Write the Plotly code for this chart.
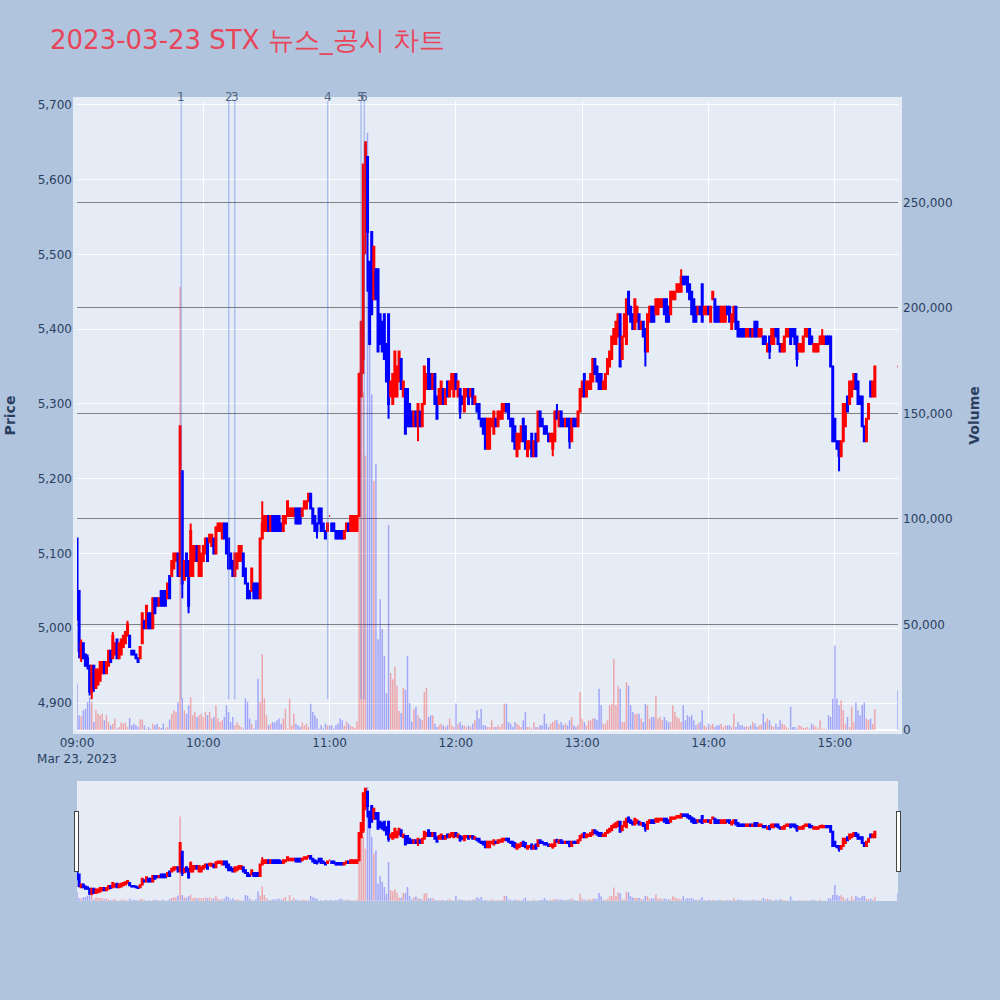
import pandas as pd
import plotly.graph_objects as go
from plotly.subplots import make_subplots

# ---- 1-minute candles, 09:00 .. 15:19, plus the 15:30 closing print ----
open_prices = [
    5120, 5050, 4960, 4980, 4965, 4960, 4950, 4915, 4950, 4920,  # 09:00
    4925, 4930, 4940, 4955, 4940, 4950, 4970, 4960, 4965, 4985,  # 09:10
    4960, 4965, 4975, 4980, 4990, 4990, 4970, 4970, 4965, 4960,  # 09:20
    4960, 4980, 5010, 5000, 5020, 5020, 5000, 5040, 5040, 5030,  # 09:30
    5050, 5050, 5050, 5040, 5070, 5070, 5080, 5090, 5100, 5070,  # 09:40
    5210, 5065, 5100, 5090, 5070, 5070, 5090, 5110, 5070, 5070,  # 09:50
    5090, 5100, 5120, 5115, 5110, 5120, 5100, 5130, 5130, 5120,  # 10:00
    5140, 5140, 5120, 5100, 5090, 5070, 5080, 5090, 5090, 5100,  # 10:10
    5080, 5060, 5050, 5050, 5060, 5060, 5060, 5040, 5120, 5130,  # 10:20
    5130, 5150, 5130, 5150, 5150, 5150, 5150, 5140, 5130, 5140,  # 10:30
    5150, 5150, 5150, 5150, 5160, 5160, 5160, 5150, 5160, 5160,  # 10:40
    5170, 5180, 5160, 5150, 5140, 5160, 5160, 5140, 5130, 5130,  # 10:50
    5150, 5140, 5140, 5130, 5130, 5130, 5130, 5120, 5130, 5140,  # 11:00
    5130, 5130, 5130, 5130, 5150, 5310, 5360, 5580, 5630, 5490,  # 11:10
    5530, 5440, 5480, 5480, 5420, 5410, 5420, 5380, 5420, 5310,  # 11:20
    5300, 5310, 5310, 5330, 5360, 5310, 5320, 5320, 5300, 5290,  # 11:30
    5270, 5290, 5270, 5290, 5270, 5300, 5320, 5360, 5340, 5320,  # 11:40
    5340, 5310, 5300, 5300, 5320, 5300, 5330, 5310, 5320, 5310,  # 11:50
    5340, 5310, 5320, 5310, 5290, 5310, 5320, 5310, 5320, 5300,  # 12:00
    5300, 5300, 5280, 5280, 5280, 5240, 5240, 5270, 5260, 5280,  # 12:10
    5270, 5280, 5280, 5290, 5300, 5300, 5280, 5280, 5270, 5230,  # 12:20
    5240, 5250, 5280, 5270, 5230, 5240, 5260, 5230, 5260, 5250,  # 12:30
    5290, 5280, 5270, 5270, 5260, 5250, 5240, 5250, 5290, 5270,  # 12:40
    5290, 5280, 5270, 5280, 5280, 5250, 5280, 5280, 5270, 5290,  # 12:50
    5310, 5340, 5310, 5320, 5320, 5330, 5360, 5350, 5340, 5340,  # 13:00
    5320, 5320, 5340, 5350, 5360, 5380, 5380, 5390, 5420, 5360,  # 13:10
    5390, 5380, 5450, 5430, 5420, 5400, 5410, 5420, 5400, 5410,  # 13:20
    5400, 5370, 5410, 5430, 5430, 5420, 5420, 5430, 5430, 5440,  # 13:30
    5440, 5430, 5420, 5440, 5440, 5450, 5450, 5450, 5470, 5470,  # 13:40
    5470, 5460, 5450, 5440, 5430, 5420, 5430, 5460, 5420, 5420,  # 13:50
    5430, 5410, 5440, 5440, 5430, 5430, 5410, 5410, 5410, 5430,  # 14:00
    5430, 5400, 5410, 5430, 5410, 5400, 5400, 5400, 5390, 5390,  # 14:10
    5400, 5390, 5410, 5410, 5390, 5390, 5390, 5390, 5370, 5390,  # 14:20
    5380, 5380, 5400, 5400, 5380, 5370, 5370, 5390, 5390, 5400,  # 14:30
    5400, 5400, 5390, 5370, 5370, 5370, 5390, 5390, 5400, 5390,  # 14:40
    5370, 5370, 5370, 5380, 5380, 5380, 5390, 5390, 5390, 5350,  # 14:50
    5280, 5250, 5250, 5230, 5250, 5270, 5310, 5300, 5310, 5320,  # 15:00
    5340, 5330, 5310, 5310, 5270, 5250, 5280, 5330, 5310, 5310,  # 15:10
    5350,                                                        # 15:30
]
close_prices = [
    5020, 4970, 4980, 4960, 4950, 4950, 4915, 4950, 4920, 4945,  # 09:00
    4945, 4955, 4955, 4940, 4955, 4970, 4955, 4990, 4980, 4960,  # 09:10
    4980, 4985, 4990, 4995, 5005, 4975, 4965, 4965, 4960, 4955,  # 09:20
    4975, 5020, 5000, 5030, 5000, 5000, 5040, 5020, 5030, 5040,  # 09:30
    5030, 5030, 5030, 5060, 5040, 5090, 5100, 5100, 5070, 5270,  # 09:40
    5060, 5090, 5070, 5030, 5130, 5110, 5110, 5090, 5110, 5100,  # 09:50
    5110, 5120, 5090, 5125, 5125, 5100, 5135, 5140, 5140, 5140,  # 10:00
    5120, 5100, 5080, 5080, 5070, 5100, 5100, 5110, 5110, 5070,  # 10:10
    5060, 5040, 5040, 5080, 5040, 5040, 5040, 5120, 5140, 5150,  # 10:20
    5150, 5130, 5150, 5130, 5130, 5130, 5130, 5130, 5150, 5150,  # 10:30
    5170, 5160, 5160, 5160, 5140, 5140, 5140, 5160, 5170, 5170,  # 10:40
    5180, 5160, 5140, 5130, 5130, 5140, 5130, 5130, 5120, 5140,  # 10:50
    5150, 5130, 5130, 5120, 5120, 5120, 5120, 5130, 5140, 5130,  # 11:00
    5150, 5150, 5150, 5150, 5340, 5410, 5620, 5650, 5530, 5380,  # 11:10
    5420, 5510, 5440, 5370, 5380, 5370, 5360, 5330, 5300, 5330,  # 11:20
    5340, 5370, 5350, 5370, 5320, 5330, 5260, 5270, 5270, 5270,  # 11:30
    5290, 5270, 5300, 5270, 5300, 5350, 5340, 5320, 5320, 5340,  # 11:40
    5300, 5280, 5320, 5330, 5300, 5320, 5310, 5330, 5340, 5340,  # 11:50
    5320, 5330, 5290, 5300, 5320, 5320, 5300, 5320, 5300, 5310,  # 12:00
    5290, 5280, 5270, 5260, 5240, 5280, 5280, 5280, 5290, 5270,  # 12:10
    5290, 5290, 5300, 5300, 5290, 5280, 5270, 5250, 5240, 5260,  # 12:20
    5260, 5270, 5250, 5240, 5250, 5250, 5230, 5250, 5230, 5290,  # 12:30
    5270, 5270, 5260, 5260, 5250, 5260, 5260, 5290, 5280, 5290,  # 12:40
    5270, 5270, 5280, 5270, 5250, 5280, 5270, 5270, 5290, 5320,  # 12:50
    5330, 5310, 5330, 5330, 5340, 5360, 5340, 5330, 5320, 5320,  # 13:00
    5330, 5340, 5360, 5370, 5390, 5400, 5410, 5420, 5350, 5390,  # 13:10
    5420, 5440, 5420, 5410, 5400, 5440, 5430, 5400, 5410, 5390,  # 13:20
    5370, 5420, 5430, 5410, 5410, 5440, 5440, 5440, 5440, 5420,  # 13:30
    5410, 5410, 5450, 5450, 5450, 5460, 5460, 5470, 5460, 5460,  # 13:40
    5450, 5440, 5420, 5410, 5410, 5430, 5420, 5410, 5430, 5430,  # 13:50
    5420, 5430, 5450, 5410, 5410, 5410, 5430, 5430, 5430, 5420,  # 14:00
    5410, 5420, 5430, 5400, 5390, 5390, 5390, 5390, 5400, 5400,  # 14:10
    5390, 5400, 5390, 5390, 5400, 5400, 5380, 5380, 5380, 5370,  # 14:20
    5400, 5400, 5390, 5380, 5370, 5380, 5390, 5400, 5400, 5380,  # 14:30
    5390, 5380, 5360, 5380, 5380, 5390, 5400, 5400, 5380, 5380,  # 14:40
    5380, 5380, 5380, 5390, 5390, 5390, 5380, 5380, 5350, 5250,  # 14:50
    5250, 5240, 5230, 5250, 5300, 5300, 5290, 5330, 5330, 5340,  # 15:00
    5320, 5300, 5300, 5270, 5250, 5280, 5300, 5310, 5330, 5350,  # 15:10
    5350,                                                        # 15:30
]
# wicks beyond the candle body: {minute index: price}
high_wicks = {2: 4985, 5: 4965, 17: 4995, 24: 5010, 54: 5140, 88: 5170,
              228: 5300, 287: 5480, 297: 5460, 302: 5450, 354: 5400}
low_wicks = {0: 5010, 1: 4960, 2: 4955, 5: 4945, 6: 4910, 7: 4905, 8: 4915,
             50: 5040, 53: 5020, 114: 5120, 136: 5340, 137: 5500, 138: 5450,
             148: 5280, 162: 5250, 182: 5280, 226: 5230, 234: 5240, 270: 5350,
             329: 5360, 342: 5350, 362: 5210}

volumes = [
    22000, 7000, 6500, 9300, 10000, 13300, 15600, 13300, 3800, 9300,
    7700, 7000, 7700, 4600, 7000, 3800, 2200, 3000, 5400, 600,
    1400, 3500, 3000, 3500, 1400, 5700, 2200, 3000, 2200, 1400,
    5000, 5000, 2200, 600, 1400, 600, 3000, 2200, 3000, 1400,
    1000, 3000, 600, 1400, 5000, 7700, 9300, 8500, 13000, 210000,
    15000, 9300, 7700, 11700, 15600, 7000, 8500, 6200, 7000, 7700,
    6200, 8500, 7000, 8500, 5400, 6200, 11700, 5400, 3800, 4600,
    6200, 11700, 8500, 3800, 6200, 2200, 3800, 2200, 1400, 600,
    15000, 13300, 5400, 3000, 600, 4600, 24300, 13300, 36000, 15000,
    7000, 2200, 3000, 3800, 3500, 4600, 5400, 3000, 5400, 10100,
    600, 14900, 2200, 7700, 3000, 2200, 1400, 3500, 2200, 3000,
    1400, 12500, 8500, 7000, 5400, 600, 2200, 600, 3000, 2200,
    2200, 2200, 600, 2200, 3000, 5400, 4600, 2000, 4000, 3000,
    2000, 1500, 1000, 4000, 170000, 175000, 160000, 130000, 283000, 220000,
    159000, 118000, 126000, 43000, 62000, 48000, 35000, 17500, 97000, 27000,
    24000, 30000, 21000, 9000, 8000, 20000, 19000, 35000, 12800, 4000,
    10000, 11000, 7000, 5400, 4600, 18000, 20000, 6200, 7000, 7000,
    3000, 1400, 2200, 3000, 2200, 1400, 2200, 5400, 2200, 1400,
    12500, 3000, 3800, 2200, 2200, 1400, 2200, 1400, 3000, 4600,
    9300, 5400, 10000, 2200, 2200, 1400, 1400, 4600, 1400, 1400,
    2200, 1400, 3000, 12500, 12500, 3800, 3000, 1400, 3800, 3000,
    2200, 1400, 4600, 8500, 1400, 1400, 600, 3800, 1400, 1400,
    2200, 2200, 7700, 3000, 1400, 3000, 3800, 4600, 4600, 3000,
    3800, 2200, 3000, 2200, 4600, 6200, 2200, 1400, 2500, 18000,
    5400, 3800, 2200, 4600, 4600, 5400, 5400, 4600, 19600, 11700,
    3000, 3000, 4600, 11700, 12500, 33800, 11700, 21000, 19600, 3800,
    3800, 22700, 21000, 11700, 8500, 7700, 7700, 7700, 5400, 3800,
    12500, 11700, 5400, 6200, 6200, 16400, 5400, 6200, 4600, 6200,
    4600, 3800, 3800, 11700, 8500, 6200, 5400, 3800, 11700, 4600,
    7000, 6200, 7000, 4600, 2200, 3000, 3800, 9300, 2200, 1400,
    3000, 2200, 3000, 1400, 2200, 2200, 3000, 1400, 2200, 2200,
    2200, 1400, 7700, 1400, 3800, 2200, 2200, 1400, 1900, 1400,
    2200, 3800, 3000, 1400, 2200, 2500, 7700, 3800, 5400, 4600,
    2200, 1400, 3000, 1400, 4600, 3000, 2500, 1400, 600, 11000,
    1400, 1400, 600, 2200, 1900, 1000, 1000, 1400, 600, 3000,
    2200, 1400, 600, 4600, 600, 600, 300, 7000, 6200, 14800,
    40000, 14800, 11700, 14000, 9300, 3000, 6200, 1400, 11000, 3800,
    13000, 9300, 7000, 11700, 13000, 5400, 4600, 5400, 3000, 10000,
    18800,
]

news_times = ["2023-03-23 09:49:33", "2023-03-23 10:12:04", "2023-03-23 10:14:55",
              "2023-03-23 10:59:06", "2023-03-23 11:14:55", "2023-03-23 11:16:29"]
news_labels = ["1", "2", "3", "4", "5", "6"]

# ---- build ----
times = list(pd.date_range("2023-03-23 09:00", periods=380, freq="min")) + [
    pd.Timestamp("2023-03-23 15:30")]
highs = [max(o, c, high_wicks.get(i, 0)) for i, (o, c) in enumerate(zip(open_prices, close_prices))]
lows = [min(o, c, low_wicks.get(i, 10 ** 9)) for i, (o, c) in enumerate(zip(open_prices, close_prices))]
vol_colors = ["rgba(255,0,0,0.3)" if c > o else "rgba(0,0,255,0.3)"
              for o, c in zip(open_prices, close_prices)]

fig = make_subplots(specs=[[{"secondary_y": True}]])
fig.add_trace(go.Candlestick(
    x=times, open=open_prices, high=highs, low=lows, close=close_prices,
    increasing=dict(line=dict(color="red"), fillcolor="red"),
    decreasing=dict(line=dict(color="blue"), fillcolor="blue"),
    showlegend=False, name="Price"), secondary_y=False)
fig.add_trace(go.Bar(
    x=times, y=volumes, marker=dict(color=vol_colors, line=dict(width=0)),
    showlegend=False, name="Volume"), secondary_y=True)

min_low = min(lows)
for t, lab in zip(news_times, news_labels):
    fig.add_shape(type="line", xref="x", yref="y", x0=t, x1=t, y0=min_low, y1=5720,
                  line=dict(color="rgba(65,105,225,0.35)", width=1.5))
    fig.add_annotation(x=t, xref="x", y=1.0064, yref="paper", text=lab, showarrow=False,
                       yanchor="middle", font=dict(size=12, color="#506784"))

x_range = ["2023-03-23 09:00", "2023-03-23 15:30"]
fig.update_layout(
    width=1000, height=1000,
    font=dict(family="DejaVu Sans", size=12, color="#2a3f5f"),
    paper_bgcolor="lightsteelblue",
    plot_bgcolor="#E5ECF6",
    margin=dict(l=77, r=102, t=101, b=100, pad=4),
    title=dict(text="2023-03-23 STX 뉴스_공시 차트", x=0.05, xanchor="left",
               y=0.96, yanchor="middle", font=dict(size=26, color="#E8455A")),
    showlegend=False,
    bargap=0.3,
    xaxis=dict(domain=[0, 1], range=x_range, gridcolor="white",
               rangeslider=dict(visible=True, thickness=0.15, range=x_range)),
)
fig.update_yaxes(title_text="<b>Price</b>", title_standoff=22, range=[4864, 5705],
                 tickformat=",", gridcolor="white", automargin=False, secondary_y=False)
fig.update_yaxes(title_text="<b>Volume</b>", title_standoff=21, range=[0, 298000],
                 tickformat=",", showgrid=True, gridcolor="gray", automargin=False,
                 secondary_y=True)

fig.write_html("out.html", config={"displayModeBar": False},
               post_script="document.body.style.margin='0px';"
                           "document.body.style.overflow='hidden';")
